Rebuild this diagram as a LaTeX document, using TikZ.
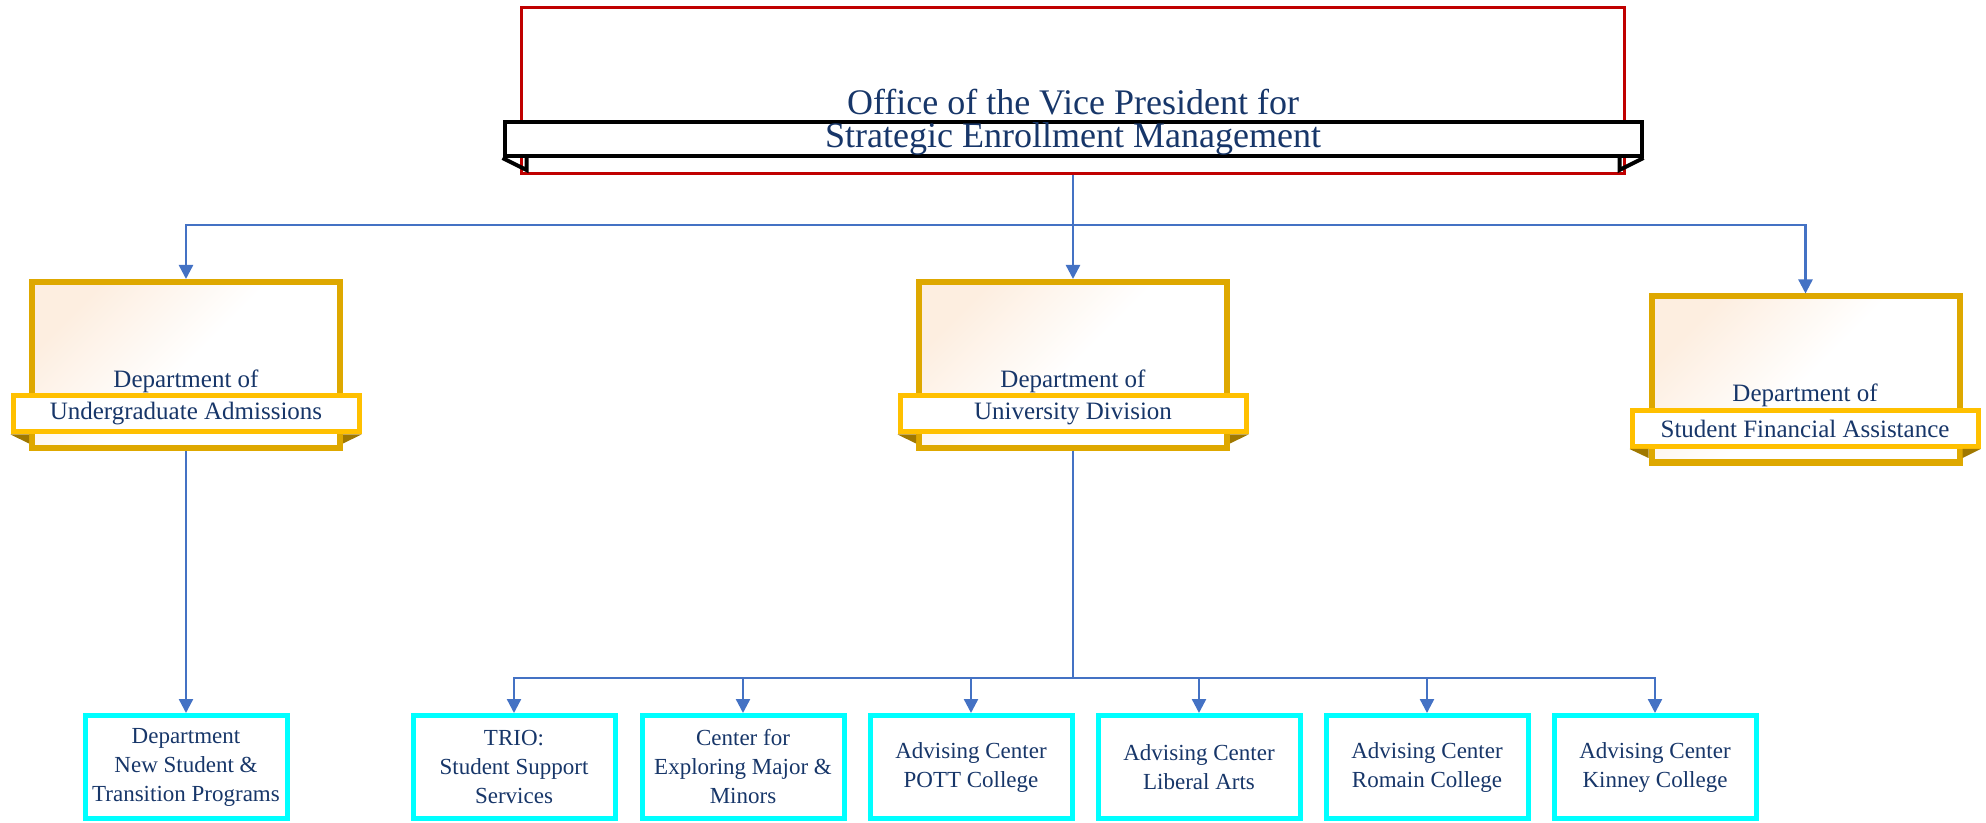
\documentclass[tikz,border=0pt]{standalone}
\usepackage{fontspec}
\setmainfont{Liberation Serif}
\usetikzlibrary{positioning,arrows.meta}
\definecolor{vpred}{RGB}{192,0,0}
\definecolor{navy}{RGB}{23,54,105}
\definecolor{deptgold}{RGB}{222,168,0}
\definecolor{bandgold}{RGB}{255,192,0}
\definecolor{tailgold}{RGB}{160,120,0}
\definecolor{peach}{RGB}{253,238,224}
\definecolor{leafcyan}{RGB}{0,255,255}
\definecolor{connblue}{RGB}{68,114,196}

\begin{document}
\begin{tikzpicture}[x=0.5pt,y=-0.5pt,
  vpbox/.style={draw=vpred, line width=1.5pt, minimum width=551.5pt, minimum height=83pt},
  vpband/.style={draw=black, fill=white, line width=2pt, minimum width=568.5pt, minimum height=17pt, inner sep=0pt, text=navy, font=\fontsize{18}{21}\selectfont},
  vptext/.style={text=navy, font=\fontsize{18}{21}\selectfont},
  dept/.style={draw=deptgold, line width=3pt, top color=peach, bottom color=white, middle color=white, shading angle=45, minimum width=154pt, minimum height=83pt},
  deptband/.style={draw=bandgold, fill=white, line width=2.5pt, minimum width=173pt, minimum height=18pt, inner sep=0pt, text=navy, font=\fontsize{12.5}{15}\selectfont},
  depttext/.style={text=navy, font=\fontsize{12.5}{15}\selectfont},
  tail/.style={fill=tailgold},
  leaf/.style={draw=leafcyan, fill=white, line width=2.5pt, minimum width=101pt, minimum height=51.5pt, inner sep=0pt, align=center, text=navy, font=\fontsize{11.5}{14.5}\selectfont},
  conn/.style={draw=connblue, line width=1.2pt, -{Triangle[width=7pt,length=7pt]}}
]
\useasboundingbox (0,0) rectangle (1986,823);

\node[vpbox] (vp) at (1073,90.5) {};
\node[vpband] (vpband) at (1073,139) {\raisebox{-2pt}{Strategic Enrollment Management}};
\node[vptext, above=-1pt of vpband] (vptitle) {Office of the Vice President for};
\draw[line width=2pt] (vpband.south west) -- ++(24,12) -- ++(0,-12);
\draw[line width=2pt] (vpband.south east) -- ++(-24,12) -- ++(0,-12);

\node[dept] (ua) at (186,365) {};
\node[deptband] (uaband) at (186,414) {Undergraduate Admissions};
\node[depttext, above=-3pt of uaband] (uatop) {Department of};
\fill[tail] (uaband.south west) -- (ua.west |- uaband.south) -- ++(0,9) -- cycle;
\fill[tail] (uaband.south east) -- (ua.east |- uaband.south) -- ++(0,9) -- cycle;

\node[dept] (ud) at (1073,365) {};
\node[deptband] (udband) at (1073,414) {University Division};
\node[depttext, above=-3pt of udband] (udtop) {Department of};
\fill[tail] (udband.south west) -- (ud.west |- udband.south) -- ++(0,9) -- cycle;
\fill[tail] (udband.south east) -- (ud.east |- udband.south) -- ++(0,9) -- cycle;

\node[dept] (sfa) at (1805.5,379.5) {};
\node[deptband] (sfaband) at (1805,428.5) {Student Financial Assistance};
\node[depttext, above=-3pt of sfaband] (sfatop) {Department of};
\fill[tail] (sfaband.south west) -- (sfa.west |- sfaband.south) -- ++(0,9) -- cycle;
\fill[tail] (sfaband.south east) -- (sfa.east |- sfaband.south) -- ++(0,9) -- cycle;

\node[leaf] (nst) at (186,767) {Department\\New Student \&\\Transition Programs};
\node[leaf] (trio) at (514,767) {TRIO:\\Student Support\\Services};
\node[leaf] (cemm) at (743,767) {Center for\\Exploring Major \&\\Minors};
\node[leaf] (pott) at (971,767) {Advising Center\\POTT College};
\node[leaf] (lart) at (1199,767) {Advising Center\\Liberal Arts};
\node[leaf] (rom) at (1427,767) {Advising Center\\Romain College};
\node[leaf] (kin) at (1655,767) {Advising Center\\Kinney College};

\draw[conn] (vp.south) -- ++(0,50) -| (ua.north);
\draw[conn] (vp.south) -- (ud.north);
\draw[conn] (vp.south) -- ++(0,50) -| (sfa.north);
\draw[conn] (ua.south) -- (nst.north);
\foreach \n in {trio,cemm,pott,lart,rom,kin}
  \draw[conn] (ud.south) -- ++(0,227) -| (\n.north);
\end{tikzpicture}
\end{document}
